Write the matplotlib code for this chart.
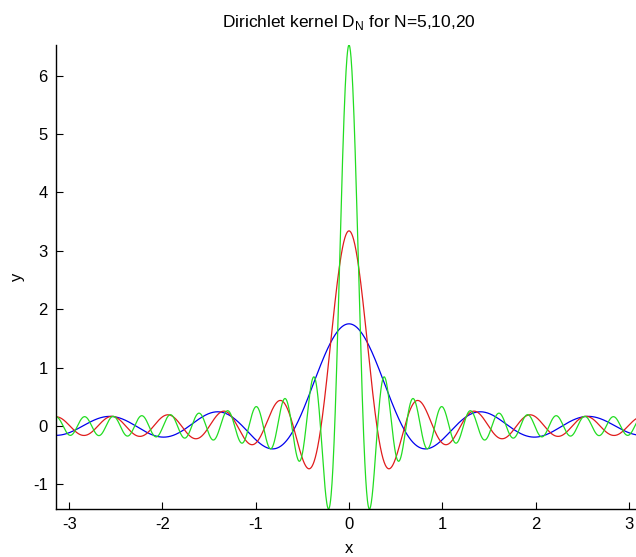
import numpy as np
import matplotlib.pyplot as plt

# Kernel orders and colours as in the title / legend order
orders = [5, 10, 20]
colors = ['#0000ee', '#e01c1c', '#22dd22']
title_text = 'Dirichlet kernel D$_\\mathrm{N}$ for N=5,10,20'
xticks = [-3, -2, -1, 0, 1, 2, 3]
yticks = [-1, 0, 1, 2, 3, 4, 5, 6]

plt.rcParams['font.family'] = ['Liberation Sans', 'DejaVu Sans']
plt.rcParams['mathtext.fontset'] = 'custom'
plt.rcParams['mathtext.rm'] = 'Liberation Sans'


def dirichlet(x, n):
    # D_N(x) / (2*pi) = sin((N+1/2)x) / (2*pi*sin(x/2))
    s = np.sin(x / 2)
    safe = np.where(np.abs(s) < 1e-12, 1.0, s)
    val = np.sin((n + 0.5) * x) / (2 * np.pi * safe)
    return np.where(np.abs(s) < 1e-12, (2 * n + 1) / (2 * np.pi), val)


x = np.linspace(-np.pi, np.pi, 2001)

fig = plt.figure(figsize=(6.36, 5.57), dpi=100)
# axes runs slightly past the right edge, as in the cropped original
ax = fig.add_axes([56 / 636, 48 / 557, 586 / 636, 464 / 557])

curves = [dirichlet(x, n) for n in orders]
for y, c in zip(curves, colors):
    ax.plot(x, y, color=c, linewidth=0.9)

ymin = min(c.min() for c in curves)
ymax = max(c.max() for c in curves)
ax.set_xlim(-np.pi, np.pi)
ax.set_ylim(ymin, ymax)

ax.set_xticks(xticks)
ax.set_yticks(yticks)
ax.set_xticklabels([str(t) for t in xticks])
ax.set_yticklabels([str(t) for t in yticks])
ax.tick_params(direction='in', length=5, width=0.8, labelsize=12, pad=6, colors='black')

for side in ['top', 'right']:
    ax.spines[side].set_visible(False)
for side in ['left', 'bottom']:
    ax.spines[side].set_linewidth(1.0)

ax.set_xlabel('x', fontsize=12, labelpad=6)
ax.set_ylabel('y', fontsize=12, labelpad=6)
ax.set_title(title_text, fontsize=12.5, pad=13)

fig.savefig('out.png', dpi=100)
